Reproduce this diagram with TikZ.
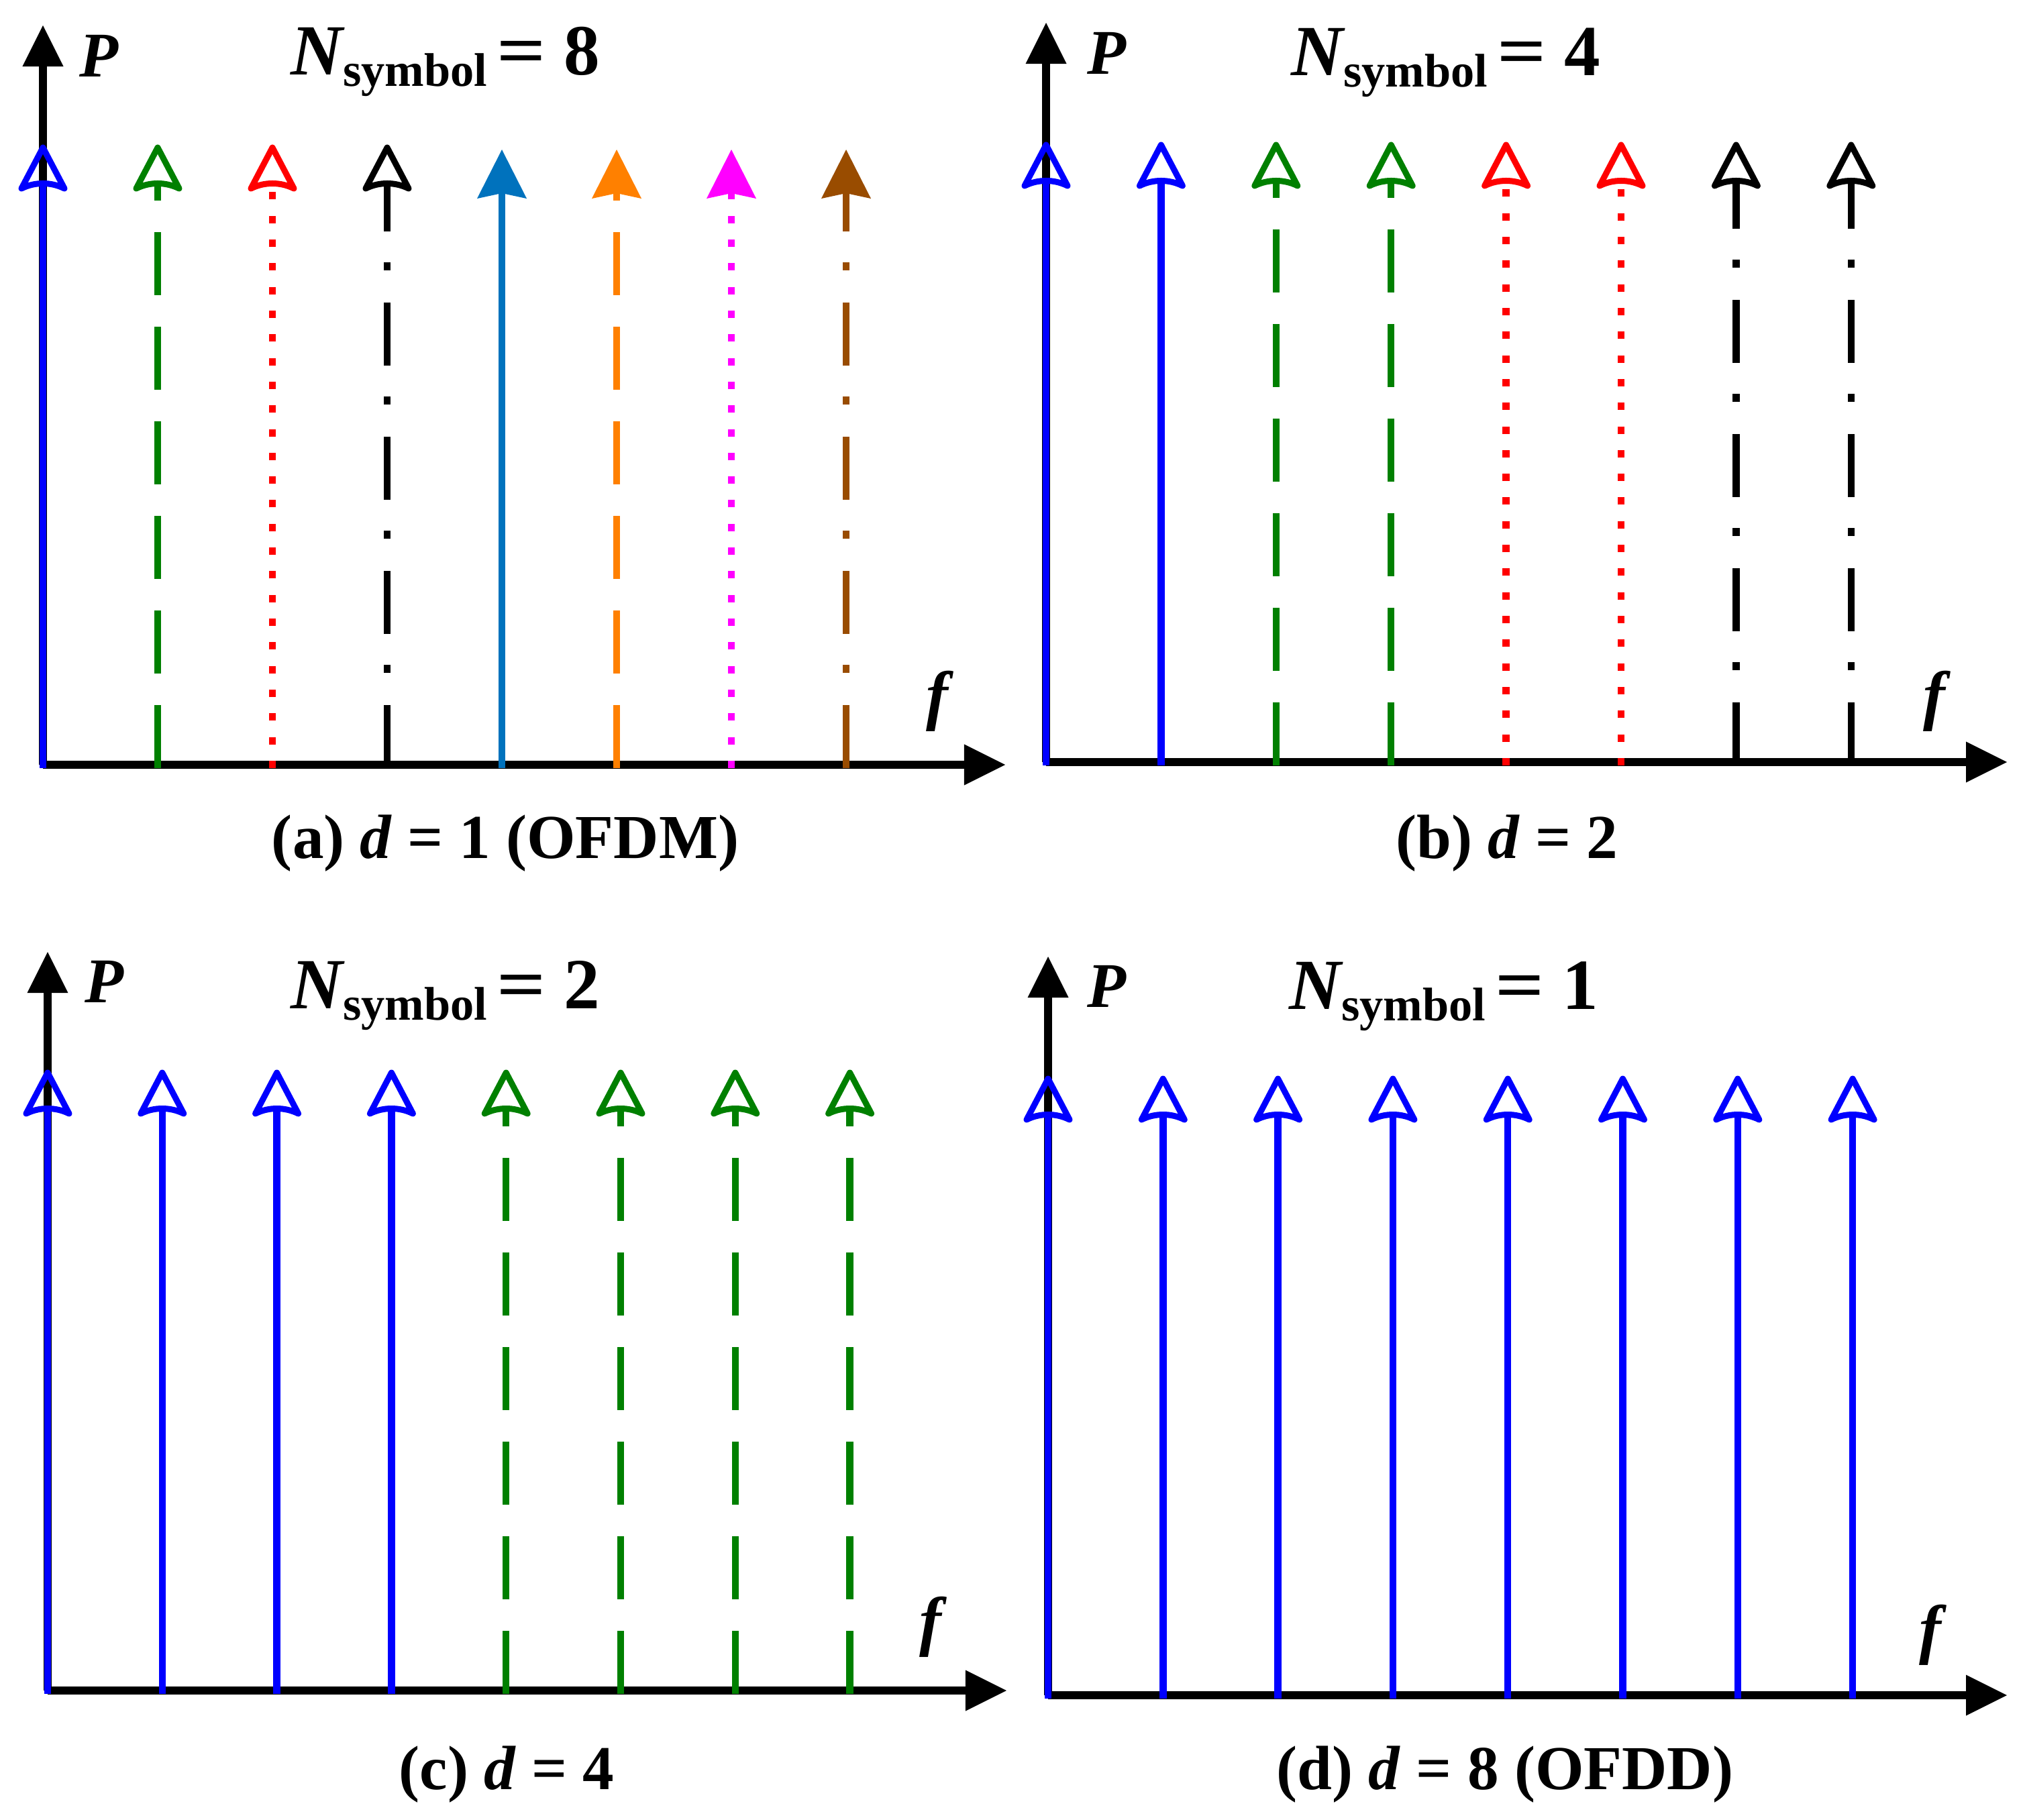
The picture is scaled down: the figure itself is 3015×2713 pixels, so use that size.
\documentclass[tikz,border=0pt]{standalone}
\usepackage{fontspec}
\usepackage{graphicx}
\setmainfont{Liberation Serif}
\usetikzlibrary{arrows.meta}

\definecolor{cblue}{RGB}{0,0,255}
\definecolor{cgreen}{RGB}{0,128,0}
\definecolor{cred}{RGB}{255,0,0}
\definecolor{cblack}{RGB}{0,0,0}
\definecolor{csteel}{RGB}{0,114,189}
\definecolor{corange}{RGB}{255,128,0}
\definecolor{cmag}{RGB}{255,0,255}
\definecolor{cbrown}{RGB}{153,76,0}

\newcommand\Nsym[1]{{\fontsize{30.5pt}{32pt}\selectfont\bfseries\itshape N}\raisebox{-0.17cm}{\fontsize{20pt}{22pt}\selectfont\bfseries symbol}\hspace{0.14cm}{\fontsize{30.5pt}{32pt}\selectfont\bfseries \scalebox{1.2}[1]{=}\hspace{0.27cm}#1}}

\tikzset{
  axisline/.style={line width=1.15mm, draw=black, -{Triangle[length=6.1mm,width=6.1mm,line width=0pt]}},
  filledtip/.style={-{Stealth[length=7.3mm,width=7.4mm,inset=0.8mm,line width=0pt]}},
  solidc/.style={line width=1.05mm},
  dashedc/.style={line width=1.05mm, dash pattern=on 9.4mm off 4.7mm},
  dottedc/.style={line width=1.05mm, dash pattern=on 1.1mm off 2.43mm},
  dashdotc/.style={line width=1.05mm, dash pattern=on 9.4mm off 4.8mm on 1.2mm off 4.6mm},
  pics/hhead/.style={code={
    \draw[line width=0.9mm, line join=round, line cap=round, color=#1]
      (0,-53) -- (32,8) .. controls (12,-2) and (-12,-2) .. (-32,8) -- cycle;}},
  plabel/.style={anchor=base west, inner sep=0pt, font=\fontsize{27pt}{30pt}\selectfont\bfseries\itshape},
  flabel/.style={anchor=base west, inner sep=0pt, font=\fontsize{28pt}{30pt}\selectfont\bfseries\itshape},
  nlabel/.style={anchor=base west, inner sep=0pt},
  caplabel/.style={anchor=base, inner sep=0pt, font=\fontsize{26.5pt}{30pt}\selectfont\bfseries}
}

\begin{document}
\begin{tikzpicture}[x=0.01cm, y=-0.01cm]
\useasboundingbox (0,0) rectangle (3015,2713);

% ---------- Panel (a) ----------
\coordinate (aO) at (64,1140);
\coordinate (aY) at (64,38);
\coordinate (aX) at (1498,1140);
\draw[axisline] (aO) -- (aY);
\draw[axisline] (aO) -- (aX);
% hollow-headed carriers
\foreach \i/\c/\s in {0/cblue/solidc, 1/cgreen/dashedc, 2/cred/dottedc, 3/cblack/dashdotc}{
  \coordinate (aB\i) at ({64+171*\i},1145);
  \coordinate (aT\i) at ({64+171*\i},273);
  \draw[\s,color=\c] (aB\i) -- (aT\i);
  \pic at (aT\i) {hhead=\c};
}
% filled-headed carriers
\foreach \i/\c/\s in {4/csteel/solidc, 5/corange/dashedc, 6/cmag/dottedc, 7/cbrown/dashdotc}{
  \coordinate (aB\i) at ({64+171*\i},1145);
  \coordinate (aT\i) at ({64+171*\i},223);
  \draw[\s,filledtip,color=\c] (aB\i) -- (aT\i);
}
\node[plabel] (aP) at (118,115) {P};
\node[flabel] (aF) at (1380,1069) {f};
\node[nlabel] (aN) at (433,112) {\Nsym{8}};
\node[caplabel] (aCap) at (753,1279) {(a) \textit{d} = 1 (OFDM)};

% ---------- Panel (b) ----------
\coordinate (bO) at (1559,1136);
\coordinate (bY) at (1559,34);
\coordinate (bX) at (2991,1136);
\draw[axisline] (bO) -- (bY);
\draw[axisline] (bO) -- (bX);
\foreach \i/\c/\s in {0/cblue/solidc, 1/cblue/solidc, 2/cgreen/dashedc, 3/cgreen/dashedc, 4/cred/dottedc, 5/cred/dottedc, 6/cblack/dashdotc, 7/cblack/dashdotc}{
  \coordinate (bB\i) at ({1559+171.4*\i},1141);
  \coordinate (bT\i) at ({1559+171.4*\i},269);
  \draw[\s,color=\c] (bB\i) -- (bT\i);
  \pic at (bT\i) {hhead=\c};
}
\node[plabel] (bP) at (1620,111) {P};
\node[flabel] (bF) at (2866,1070) {f};
\node[nlabel] (bN) at (1924,113) {\Nsym{4}};
\node[caplabel] (bCap) at (2246,1279) {(b) \textit{d} = 2};

% ---------- Panel (c) ----------
\coordinate (cO) at (71,2520);
\coordinate (cY) at (71,1419);
\coordinate (cX) at (1500,2520);
\draw[axisline] (cO) -- (cY);
\draw[axisline] (cO) -- (cX);
\foreach \i/\c/\s in {0/cblue/solidc, 1/cblue/solidc, 2/cblue/solidc, 3/cblue/solidc, 4/cgreen/dashedc, 5/cgreen/dashedc, 6/cgreen/dashedc, 7/cgreen/dashedc}{
  \coordinate (cB\i) at ({71+170.8*\i},2525);
  \coordinate (cT\i) at ({71+170.8*\i},1652);
  \draw[\s,color=\c] (cB\i) -- (cT\i);
  \pic at (cT\i) {hhead=\c};
}
\node[plabel] (cP) at (126,1494) {P};
\node[flabel] (cF) at (1370,2449) {f};
\node[nlabel] (cN) at (433,1503) {\Nsym{2}};
\node[caplabel] (cCap) at (755,2667) {(c) \textit{d} = 4};

% ---------- Panel (d) ----------
\coordinate (dO) at (1562,2527);
\coordinate (dY) at (1562,1426);
\coordinate (dX) at (2991,2527);
\draw[axisline] (dO) -- (dY);
\draw[axisline] (dO) -- (dX);
\foreach \i in {0,...,7}{
  \coordinate (dB\i) at ({1562+171.3*\i},2532);
  \coordinate (dT\i) at ({1562+171.3*\i},1661);
  \draw[solidc,color=cblue] (dB\i) -- (dT\i);
  \pic at (dT\i) {hhead=cblue};
}
\node[plabel] (dP) at (1620,1501) {P};
\node[flabel] (dF) at (2860,2461) {f};
\node[nlabel] (dN) at (1921,1504) {\Nsym{1}};
\node[caplabel] (dCap) at (2243,2667) {(d) \textit{d} = 8 (OFDD)};
\end{tikzpicture}
\end{document}
